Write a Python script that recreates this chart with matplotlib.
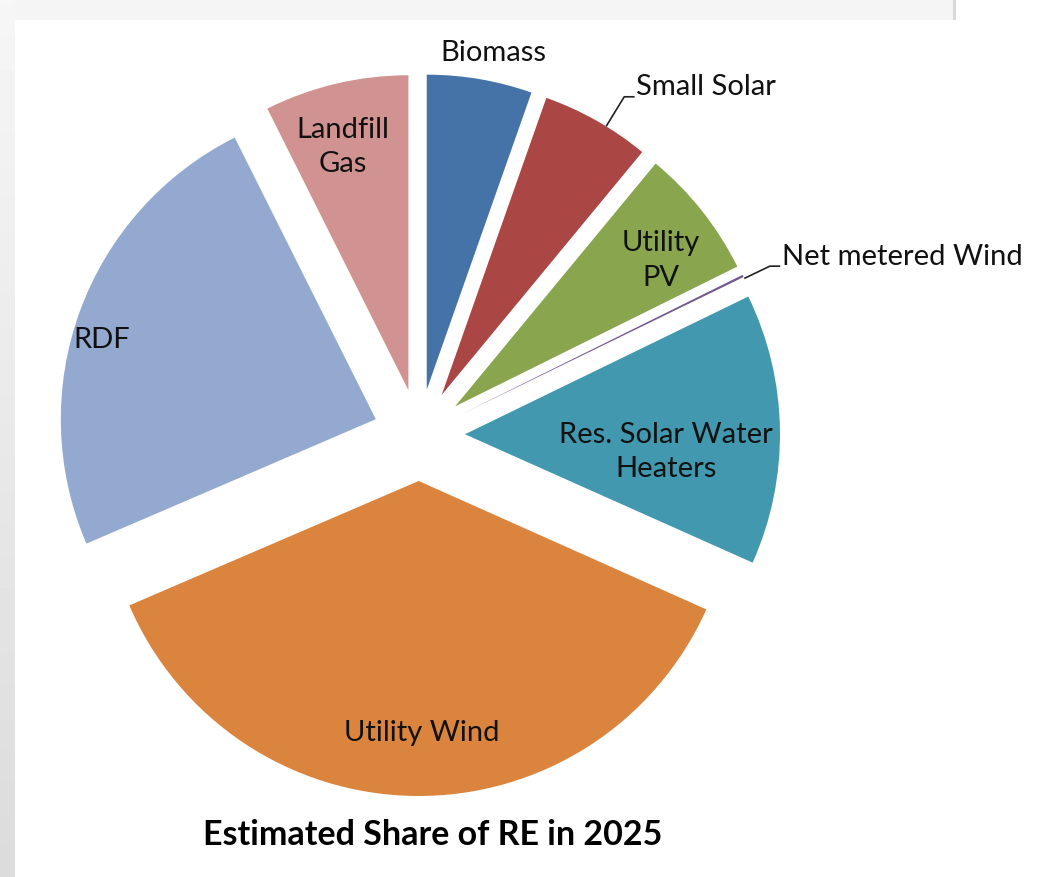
import numpy as np
import matplotlib
matplotlib.use('Agg')
import matplotlib.pyplot as plt
from matplotlib.patches import Rectangle

plt.rcParams['font.family'] = ['Lato', 'DejaVu Sans']

# --- data ---
sources = ['Biomass', 'Small Solar', 'Utility\nPV', 'Net metered Wind',
           'Res. Solar Water\nHeaters', 'Utility Wind', 'RDF', 'Landfill\nGas']
shares = [5.4, 5.6, 6.7, 0.12, 13.9, 36.9, 24.1, 7.4]
colors = ['#4572A7', '#AA4643', '#89A54E', '#71588F',
          '#4198AF', '#DB843D', '#93A9CF', '#D19392']
chart_title = 'Estimated Share of RE in 2025'

# label placement: (distance from wedge centre, angle tweak in deg, leader?)
label_pos = [(1.09, -1.5, False), (1.11, -2.0, True), (0.80, -3.0, False),
             (1.09, -0.5, True), (0.64, -6.0, False), (0.80, 1.0, False),
             (0.905, 4.0, False), (0.80, 1.8, False)]

W, H = 1038, 877
fig = plt.figure(figsize=(W / 100, H / 100), dpi=100)

# window chrome around the chart: grey strip on the left and along the top
bg = fig.add_axes([0, 0, 1, 1])
bg.set_xlim(0, W)
bg.set_ylim(H, 0)
bg.axis('off')
grad = np.linspace(0.965, 0.86, 200).reshape(-1, 1)
bg.imshow(grad, cmap='gray', vmin=0, vmax=1, extent=(0, 15, H, 0), aspect='auto')
bg.add_patch(Rectangle((15, 0), 938, 20, color='#f5f5f5', lw=0))
bg.add_patch(Rectangle((953, 0), 3, 20, color='#d9d9d9', lw=0))

# pie axes, one data unit = pie radius
R = 315
cx, cy = 419, 435
ax = fig.add_axes([0, 0, 1, 1])
wedges, _ = ax.pie(shares, colors=colors, startangle=90, counterclock=False,
                   explode=[0.146] * len(shares), radius=1,
                   wedgeprops=dict(linewidth=0))
ax.set_xlim(-cx / R, (W - cx) / R)
ax.set_ylim(-(H - cy) / R, cy / R)
ax.axis('off')

txt_color = '#111111'
for w, name, (dist, dth, leader) in zip(wedges, sources, label_pos):
    mid = np.deg2rad((w.theta1 + w.theta2) / 2 + dth)
    x0, y0 = w.center
    px = x0 + dist * np.cos(mid)
    py = y0 + dist * np.sin(mid)
    if leader:
        sx = x0 + w.r * np.cos(mid)
        sy = y0 + w.r * np.sin(mid)
        ax.plot([sx, px, px + 0.033], [sy, py, py], color='#222222', lw=1.2,
                solid_capstyle='butt')
        ax.text(px + 0.038, py + 0.03, name, ha='left', va='center',
                fontsize=21, color=txt_color)
    else:
        ax.text(px, py, name, ha='center', va='center', fontsize=21,
                color=txt_color, linespacing=1.4)

# title sits below the pie
ax.text(0.043, -1.27, chart_title, ha='center', va='center', fontsize=24.5,
        fontweight='bold', color='#000000')

fig.savefig('out.png', dpi=100)
